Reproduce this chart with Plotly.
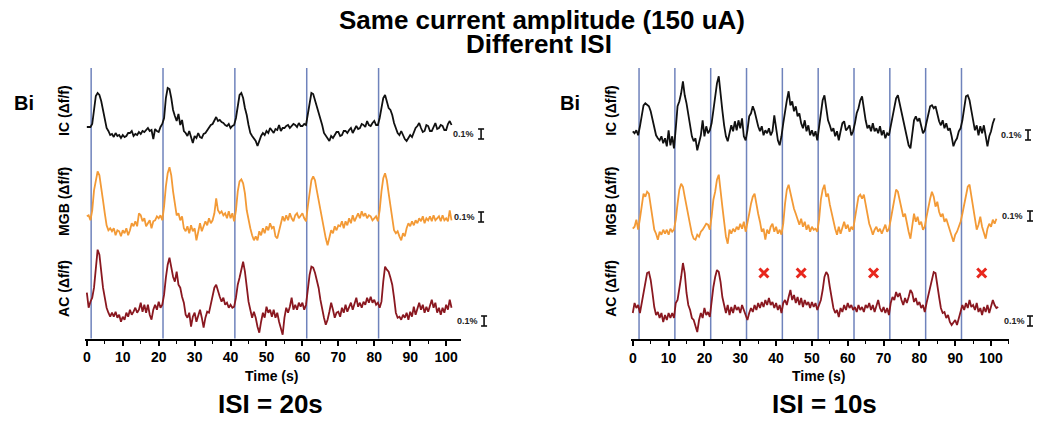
import plotly.graph_objects as go

# ---------------- data (Δf/f in %, sampled every 0.5 s) ----------------
SAMPLE_STEP_S = 0.5

STIM_TIMES_ISI20 = [1.2, 21.2, 41.2, 61.2, 81.2]
STIM_TIMES_ISI10 = [1.75, 11.75, 21.75, 31.75, 41.75, 51.75, 61.75, 71.75, 81.75, 91.75]
MISSED_RESPONSE_T = [36.6, 47.0, 67.2, 97.4]   # red "x" marks in AC, ISI = 10 s

X_TICKS = [0, 10, 20, 30, 40, 50, 60, 70, 80, 90, 100]
REGIONS = ["IC", "MGB", "AC"]
SCALE_BAR_PCT = 0.1

IC_ISI20 = [
    0.00, 0.00, 0.00, 0.03, 0.16, 0.31, 0.34, 0.32, 0.26, 0.16,
    0.07, -0.01, -0.04, -0.08, -0.07, -0.10, -0.06, -0.09, -0.08, -0.11,
    -0.08, -0.10, -0.09, -0.06, -0.06, -0.04, -0.09, -0.07, -0.08, -0.05,
    -0.07, -0.04, -0.05, -0.03, -0.01, -0.04, -0.03, -0.12, -0.02, -0.04,
    -0.05, 0.00, 0.03, 0.09, 0.29, 0.39, 0.38, 0.29, 0.17, 0.11,
    0.06, 0.13, 0.02, 0.07, -0.04, -0.06, -0.09, -0.04, -0.11, -0.16,
    -0.09, -0.11, -0.06, -0.10, -0.11, -0.07, -0.06, -0.03, -0.01, 0.02,
    0.03, 0.07, 0.10, 0.06, 0.07, 0.05, 0.04, 0.02, 0.01, 0.03,
    -0.01, 0.01, 0.02, 0.09, 0.22, 0.32, 0.34, 0.29, 0.19, 0.12,
    0.02, -0.06, -0.09, -0.11, -0.14, -0.19, -0.13, -0.09, -0.06, -0.08,
    -0.04, -0.06, -0.01, -0.04, -0.06, -0.02, -0.03, 0.02, -0.04, -0.01,
    -0.01, 0.01, 0.02, -0.01, 0.01, 0.03, 0.02, 0.00, 0.04, 0.01,
    0.01, 0.03, 0.02, 0.12, 0.26, 0.34, 0.33, 0.27, 0.22, 0.16,
    0.09, 0.02, -0.06, -0.09, -0.11, -0.14, -0.09, -0.11, -0.08, -0.05,
    -0.05, -0.09, -0.08, -0.04, -0.04, -0.06, -0.03, -0.01, -0.06, -0.02,
    0.01, -0.02, -0.01, 0.03, 0.02, 0.00, 0.06, 0.02, 0.01, 0.04,
    0.06, 0.02, 0.02, 0.09, 0.19, 0.29, 0.32, 0.26, 0.19, 0.17,
    0.12, 0.04, -0.01, -0.06, -0.08, -0.04, -0.08, -0.12, -0.14, -0.11,
    -0.08, -0.10, -0.06, -0.01, 0.01, 0.04, -0.01, -0.05, -0.04, 0.02,
    0.01, -0.04, -0.04, 0.01, 0.04, -0.02, -0.01, 0.02, 0.01, -0.03,
    -0.03, 0.03, 0.06, 0.02,
]

MGB_ISI20 = [
    0.02, 0.03, -0.02, 0.08, 0.28, 0.40, 0.47, 0.43, 0.32, 0.18,
    0.05, -0.07, -0.12, -0.10, -0.13, -0.10, -0.17, -0.12, -0.13, -0.18,
    -0.12, -0.15, -0.10, -0.17, -0.12, -0.05, -0.08, -0.03, -0.08, 0.05,
    0.03, -0.03, 0.00, -0.08, -0.05, -0.02, -0.10, -0.03, -0.02, 0.02,
    0.00, 0.03, -0.02, 0.12, 0.32, 0.45, 0.51, 0.43, 0.27, 0.12,
    0.03, 0.05, -0.02, 0.02, -0.10, -0.13, -0.08, -0.15, -0.07, -0.13,
    -0.10, -0.22, -0.12, -0.05, -0.13, -0.08, -0.03, -0.07, 0.00, -0.05,
    -0.02, 0.05, 0.20, 0.08, 0.05, 0.07, 0.03, 0.05, 0.00, 0.07,
    0.00, 0.05, -0.03, 0.08, 0.27, 0.37, 0.39, 0.35, 0.25, 0.08,
    -0.03, -0.10, -0.17, -0.22, -0.18, -0.22, -0.13, -0.17, -0.10, -0.15,
    -0.08, -0.12, -0.05, -0.10, -0.08, -0.18, -0.20, -0.13, -0.05, 0.02,
    -0.03, 0.03, -0.02, 0.05, 0.00, -0.03, 0.03, 0.05, 0.00, 0.03,
    0.05, 0.00, -0.03, 0.12, 0.28, 0.38, 0.42, 0.38, 0.28, 0.18,
    0.08, -0.03, -0.12, -0.20, -0.27, -0.18, -0.12, -0.15, -0.08, -0.12,
    -0.07, -0.08, -0.03, -0.10, -0.03, -0.07, 0.00, -0.05, 0.03, -0.03,
    0.02, 0.05, 0.00, 0.07, 0.02, 0.05, 0.00, 0.03, 0.02, -0.02,
    0.00, 0.02, -0.03, 0.08, 0.27, 0.40, 0.45, 0.38, 0.25, 0.12,
    -0.02, -0.12, -0.15, -0.13, -0.18, -0.22, -0.15, -0.18, -0.10, -0.05,
    -0.08, -0.03, -0.07, -0.02, -0.05, 0.00, -0.03, 0.02, -0.05, 0.00,
    -0.02, 0.02, -0.03, 0.03, -0.02, 0.00, 0.02, -0.03, 0.03, -0.02,
    0.00, -0.03, 0.08, -0.02,
]

AC_ISI20 = [
    0.12, -0.03, 0.03, 0.07, 0.17, 0.40, 0.55, 0.50, 0.30, 0.17,
    0.07, -0.03, -0.08, -0.12, -0.08, -0.12, -0.07, -0.13, -0.10, -0.17,
    -0.12, -0.15, -0.08, -0.12, -0.05, -0.10, -0.07, -0.03, -0.08, -0.05,
    0.02, -0.07, 0.00, -0.08, 0.00, -0.10, -0.15, -0.05, 0.00, -0.05,
    0.03, -0.03, 0.00, 0.10, 0.27, 0.40, 0.47, 0.38, 0.28, 0.23,
    0.33, 0.20, 0.17, 0.08, 0.02, -0.10, -0.13, -0.08, -0.22, -0.12,
    -0.08, -0.17, -0.10, -0.05, -0.13, -0.23, -0.13, -0.07, -0.08, 0.00,
    0.08, 0.17, 0.20, 0.13, 0.08, 0.03, 0.07, 0.00, 0.02, -0.03,
    0.00, -0.03, -0.02, 0.07, 0.20, 0.27, 0.35, 0.43, 0.33, 0.17,
    0.03, -0.05, -0.13, -0.07, -0.13, -0.22, -0.28, -0.17, -0.08, -0.13,
    -0.02, -0.08, -0.05, -0.12, -0.05, -0.13, -0.08, -0.17, -0.23, -0.30,
    -0.13, -0.03, -0.08, -0.02, 0.07, -0.05, 0.00, -0.05, 0.02, -0.02,
    0.02, -0.05, 0.00, 0.17, 0.30, 0.38, 0.37, 0.32, 0.25, 0.17,
    0.05, -0.05, -0.13, -0.20, -0.15, -0.07, 0.02, -0.05, -0.13, -0.08,
    -0.07, -0.12, -0.03, -0.08, 0.00, -0.07, -0.03, 0.02, -0.05, 0.02,
    0.07, -0.02, 0.02, -0.03, 0.03, 0.00, 0.07, 0.02, 0.08, 0.02,
    0.05, 0.00, 0.02, -0.03, 0.03, 0.23, 0.38, 0.35, 0.33, 0.27,
    0.20, 0.07, -0.08, -0.13, -0.12, -0.15, -0.10, -0.13, -0.08, -0.15,
    -0.07, -0.12, -0.02, -0.10, -0.03, 0.02, -0.05, 0.00, -0.08, -0.02,
    -0.07, 0.00, 0.05, -0.03, 0.02, -0.08, -0.03, -0.10, -0.03, -0.08,
    0.00, -0.05, 0.05, -0.03,
]

IC_ISI10 = [
    0.02, 0.00, 0.03, -0.02, 0.07, 0.20, 0.28, 0.30, 0.28, 0.27,
    0.22, 0.13, 0.07, -0.02, -0.05, -0.07, -0.03, -0.10, -0.05, -0.13,
    0.03, -0.12, -0.03, -0.15, 0.05, 0.27, 0.32, 0.40, 0.52, 0.38,
    0.30, 0.20, 0.08, -0.03, -0.08, -0.05, -0.17, -0.08, -0.02, 0.13,
    -0.03, 0.07, 0.00, 0.03, 0.10, 0.23, 0.37, 0.50, 0.57, 0.37,
    0.23, 0.08, -0.03, -0.08, 0.00, 0.08, 0.02, 0.12, 0.03, 0.13,
    0.05, 0.15, -0.03, -0.07, 0.03, 0.17, 0.20, 0.27, 0.22, 0.13,
    0.07, 0.02, 0.07, -0.02, 0.03, 0.00, 0.05, -0.02, 0.02, 0.18,
    0.05, -0.07, -0.12, -0.03, 0.10, 0.23, 0.33, 0.42, 0.28, 0.32,
    0.22, 0.27, 0.17, 0.20, 0.10, 0.05, 0.13, 0.02, 0.08, -0.02,
    0.03, -0.03, 0.02, -0.07, 0.07, 0.20, 0.33, 0.38, 0.27, 0.13,
    0.08, 0.02, 0.05, -0.03, 0.02, -0.07, 0.02, 0.10, 0.12, 0.03,
    0.05, 0.08, -0.02, 0.02, 0.10, 0.20, 0.25, 0.33, 0.37, 0.22,
    0.13, 0.05, 0.08, 0.02, 0.10, 0.02, 0.05, 0.00, 0.07, -0.02,
    0.03, -0.05, 0.00, -0.02, 0.07, 0.17, 0.27, 0.35, 0.38, 0.30,
    0.23, 0.15, 0.07, -0.03, -0.12, -0.15, 0.00, 0.13, 0.17, 0.12,
    0.15, 0.08, 0.00, 0.03, 0.12, 0.20, 0.27, 0.28, 0.25, 0.27,
    0.18, 0.12, 0.08, 0.13, 0.05, 0.10, 0.03, 0.05, -0.03, -0.13,
    -0.08, -0.05, 0.02, 0.05, 0.13, 0.23, 0.37, 0.38, 0.33, 0.23,
    0.13, 0.03, 0.08, -0.02, 0.07, 0.00, 0.08, -0.05, -0.13, -0.03,
    0.02, 0.10, 0.15,
]

MGB_ISI10 = [
    -0.02, 0.00, 0.07, -0.03, 0.08, 0.23, 0.33, 0.30, 0.35, 0.33,
    0.20, 0.07, -0.03, -0.07, -0.13, -0.05, -0.08, -0.03, -0.07, -0.03,
    -0.08, -0.02, -0.05, -0.03, 0.07, 0.23, 0.37, 0.43, 0.40, 0.30,
    0.20, 0.08, 0.02, -0.07, -0.12, -0.13, -0.08, -0.10, -0.05, -0.03,
    0.00, 0.03, 0.02, -0.03, 0.10, 0.27, 0.35, 0.47, 0.52, 0.33,
    0.20, 0.05, -0.10, -0.17, -0.03, -0.07, -0.02, -0.05, 0.00, -0.03,
    0.03, -0.02, 0.05, -0.05, 0.03, 0.13, 0.23, 0.30, 0.33, 0.22,
    0.13, 0.05, -0.05, -0.02, -0.13, -0.03, -0.07, 0.00, 0.03, -0.05,
    0.00, -0.07, -0.03, -0.08, 0.03, 0.23, 0.37, 0.42, 0.33, 0.27,
    0.18, 0.13, 0.08, 0.02, 0.08, 0.00, 0.05, -0.03, 0.02, -0.05,
    0.00, -0.03, -0.02, -0.05, 0.07, 0.27, 0.37, 0.42, 0.30, 0.33,
    0.22, 0.13, 0.05, -0.02, -0.08, 0.00, -0.07, 0.00, 0.05, -0.02,
    0.02, -0.05, 0.00, -0.03, 0.07, 0.20, 0.30, 0.32, 0.28, 0.32,
    0.22, 0.12, 0.03, -0.02, -0.08, -0.03, 0.00, -0.05, -0.02, -0.07,
    -0.03, 0.02, -0.05, -0.02, 0.07, 0.17, 0.27, 0.37, 0.35, 0.27,
    0.17, 0.10, 0.13, 0.03, -0.05, -0.12, 0.00, 0.13, 0.05, 0.10,
    0.02, 0.05, -0.03, 0.00, 0.10, 0.20, 0.28, 0.35, 0.30, 0.20,
    0.25, 0.15, 0.10, 0.13, 0.05, 0.08, 0.02, -0.03, -0.10, -0.15,
    -0.08, -0.05, 0.00, 0.05, 0.13, 0.23, 0.33, 0.40, 0.42, 0.30,
    0.18, 0.05, -0.03, 0.02, 0.10, 0.00, -0.07, -0.12, -0.02, 0.03,
    0.00, 0.07, 0.03, 0.08,
]

AC_ISI10 = [
    -0.03, 0.07, 0.02, 0.05, -0.03, 0.07, 0.17, 0.30, 0.37, 0.38,
    0.30, 0.17, 0.03, -0.05, -0.02, -0.08, -0.03, -0.12, -0.05, -0.10,
    -0.03, -0.08, -0.03, -0.08, 0.07, 0.10, 0.20, 0.33, 0.47, 0.37,
    0.17, 0.05, 0.00, -0.08, -0.10, -0.17, -0.22, -0.10, -0.03, -0.08,
    0.02, -0.05, -0.02, -0.07, 0.10, 0.23, 0.33, 0.40, 0.38, 0.28,
    0.13, 0.03, -0.03, 0.05, -0.05, 0.03, -0.03, 0.05, 0.00, 0.03,
    -0.03, 0.05, 0.00, -0.05, -0.10, -0.03, 0.02, -0.02, 0.05, 0.00,
    0.07, 0.02, 0.08, 0.03, 0.10, 0.05, 0.12, 0.05, 0.08, 0.02,
    0.07, 0.00, 0.05, -0.03, 0.07, 0.10, 0.05, 0.13, 0.20, 0.10,
    0.15, 0.07, 0.13, 0.05, 0.12, 0.03, 0.10, 0.05, 0.08, 0.02,
    0.08, 0.03, 0.07, 0.00, 0.05, 0.10, 0.20, 0.33, 0.38, 0.35,
    0.23, 0.10, 0.02, -0.03, 0.00, -0.07, 0.02, -0.02, 0.05, 0.00,
    0.07, 0.02, 0.05, 0.00, 0.03, -0.02, 0.05, 0.00, 0.03, -0.02,
    0.05, 0.02, 0.07, 0.00, 0.05, -0.02, 0.03, 0.10, 0.02, -0.02,
    0.03, -0.03, 0.02, -0.05, 0.07, 0.13, 0.10, 0.18, 0.13, 0.17,
    0.10, 0.05, 0.12, 0.07, 0.13, 0.20, 0.17, 0.08, 0.12, 0.05,
    0.08, 0.02, 0.05, -0.02, 0.07, 0.15, 0.23, 0.33, 0.38, 0.37,
    0.27, 0.13, 0.02, -0.03, -0.02, -0.08, -0.05, -0.12, -0.15, -0.13,
    -0.10, -0.15, -0.08, -0.03, 0.05, 0.00, 0.07, 0.02, 0.10, 0.03,
    0.05, 0.00, 0.07, -0.02, 0.02, -0.05, 0.03, -0.02, 0.05, -0.03,
    0.03, 0.10, 0.05, 0.02, 0.03,
]

# ---------------- layout geometry (pixels) ----------------
W, H = 1038, 421
PX_PER_PCT = 100.0
FONT = "Liberation Sans, Arial, sans-serif"
COLORS = {"IC": "#111111", "MGB": "#F39A36", "AC": "#8A1820"}
STIM_COLOR = "#6F83BC"


def py(p):
    return 1 - p / H


def px(p):
    return p / W


def row_axis(base, top, bottom):
    return dict(domain=[py(bottom), py(top)],
                range=[(base - bottom) / PX_PER_PCT, (base - top) / PX_PER_PCT],
                visible=False, fixedrange=True, showgrid=False, zeroline=False)


def note(text, x, y, size, angle=0, color="black"):
    return dict(text=text, x=px(x), y=py(y), xref="paper", yref="paper",
                xanchor="center", yanchor="middle", showarrow=False, textangle=angle,
                font=dict(size=size, family=FONT, color=color))


panels = [
    dict(xa="x", xdomain=(83.2, 459.4), xrange=[-0.5, 104], anchor="y3",
         yaxes=["y", "y2", "y3"],
         rows=[(127, 68, 158), (218.3, 158, 256), (304.7, 236, 338.5)],
         series=[IC_ISI20, MGB_ISI20, AC_ISI20], stim=STIM_TIMES_ISI20,
         label_x=62, bi_x=22, time_x=270, isi_x=269, isi_text="ISI = 20s",
         scale=[(462, 480, 134), (463, 480, 217), (466, 483, 321)]),
    dict(xa="x2", xdomain=(630.2, 1008.9), xrange=[-0.5, 105], anchor="y6",
         yaxes=["y4", "y5", "y6"],
         rows=[(133.3, 68, 162), (226.7, 160, 258), (310, 236, 339)],
         series=[IC_ISI10, MGB_ISI10, AC_ISI10], stim=STIM_TIMES_ISI10,
         label_x=610, bi_x=569, time_x=818, isi_x=824, isi_text="ISI = 10s",
         scale=[(1011, 1028, 135), (1012, 1030, 216), (1014, 1030, 321)]),
]
LABEL_Y = [110, 201, 288]

fig = go.Figure()
layout = dict(width=W, height=H, margin=dict(l=0, r=0, t=0, b=0),
              paper_bgcolor="white", plot_bgcolor="rgba(0,0,0,0)",
              showlegend=False, font=dict(family=FONT, color="black"))
shapes, annotations = [], []

for p in panels:
    xkey = "xaxis" if p["xa"] == "x" else "xaxis2"
    layout[xkey] = dict(domain=[px(p["xdomain"][0]), px(p["xdomain"][1])],
                        range=p["xrange"], anchor=p["anchor"],
                        showline=True, linecolor="black", linewidth=2,
                        ticks="outside", ticklen=5, tickwidth=1.5, tickcolor="black",
                        tickvals=X_TICKS, showgrid=False, zeroline=False,
                        minor=dict(ticks="outside", ticklen=3, tickwidth=1.2,
                                   tickcolor="black", dtick=5, tick0=0),
                        tickfont=dict(size=14, family=FONT, color="black", weight="bold"),
                        fixedrange=True)
    for ya, (base, top, bottom), vals, region in zip(p["yaxes"], p["rows"], p["series"], REGIONS):
        ykey = "yaxis" if ya == "y" else "yaxis" + ya[1:]
        ax = row_axis(base, top, bottom)
        ax["anchor"] = p["xa"]
        layout[ykey] = ax
        t = [i * SAMPLE_STEP_S for i in range(len(vals))]
        fig.add_trace(go.Scatter(x=t, y=vals, xaxis=p["xa"], yaxis=ya, mode="lines",
                                 line=dict(color=COLORS[region], width=1.8),
                                 hoverinfo="skip"))
    for s in p["stim"]:
        shapes.append(dict(type="line", xref=p["xa"], yref="paper", x0=s, x1=s,
                           y0=py(p["rows"][2][2]), y1=py(68), layer="below",
                           line=dict(color=STIM_COLOR, width=1.5)))
    for region, ly in zip(REGIONS, LABEL_Y):
        annotations.append(note(f"<b>{region} (Δf/f)</b>", p["label_x"], ly, 14, angle=-90))
    half = SCALE_BAR_PCT * PX_PER_PCT / 2
    for tx, bx, cy in p["scale"]:
        annotations.append(note("<b>0.1%</b>", tx, cy, 9, color="#222"))
        shapes.append(dict(type="line", xref="paper", yref="paper", x0=px(bx), x1=px(bx),
                           y0=py(cy + half), y1=py(cy - half), line=dict(color="#111", width=1.6)))
        for cap in (cy - half, cy + half):
            shapes.append(dict(type="line", xref="paper", yref="paper", x0=px(bx - 3), x1=px(bx + 3),
                               y0=py(cap), y1=py(cap), line=dict(color="#111", width=1.6)))
    annotations.append(note("<b>Bi</b>", p["bi_x"], 103, 20))
    annotations.append(note("<b>Time (s)</b>", p["time_x"], 376, 14))
    annotations.append(note(f"<b>{p['isi_text']}</b>", p["isi_x"], 404, 26))

fig.add_trace(go.Scatter(x=MISSED_RESPONSE_T, y=[0.37] * len(MISSED_RESPONSE_T), xaxis="x2", yaxis="y6",
                         mode="markers", hoverinfo="skip", cliponaxis=False,
                         marker=dict(symbol="x-thin", size=9, line=dict(color="#E8271D", width=3))))

annotations.append(note("<b>Same current amplitude (150 uA)</b>", 541, 20, 26))
annotations.append(note("<b>Different ISI</b>", 538, 44, 26))

layout["shapes"] = shapes
layout["annotations"] = annotations
fig.update_layout(**layout)
fig.write_html("out.html", config={"displayModeBar": False},
               post_script="document.body.style.margin='0';document.body.style.overflow='hidden';")
